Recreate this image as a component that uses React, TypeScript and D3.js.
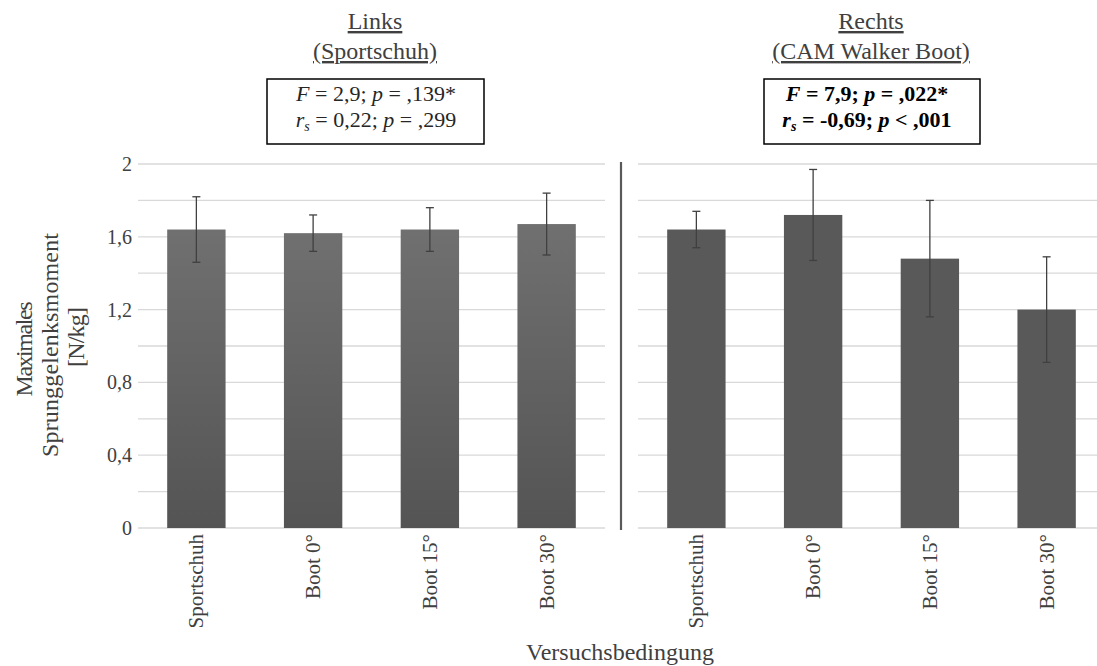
import React from "react";
import * as d3 from "d3";

const categories = ["Sportschuh", "Boot 0°", "Boot 15°", "Boot 30°"];
const leftValues = [1.64, 1.62, 1.64, 1.67];
const leftErrors = [0.18, 0.1, 0.12, 0.17];
const rightValues = [1.64, 1.72, 1.48, 1.2];
const rightErrors = [0.1, 0.25, 0.32, 0.29];
const yTicks = [0, 0.4, 0.8, 1.2, 1.6, 2];
const gridTicks = [0, 0.2, 0.4, 0.6, 0.8, 1.0, 1.2, 1.4, 1.6, 1.8, 2.0];

const FONT = "'Liberation Serif', 'DejaVu Serif', serif";
const TXT = "#404040";

export default function App() {
  const W = 1097, H = 666;
  const y = d3.scaleLinear().domain([0, 2]).range([528, 164]);
  const xL = d3.scaleBand().domain(categories).range([138, 605]).paddingInner(0.5).paddingOuter(0.25);
  const xR = d3.scaleBand().domain(categories).range([638, 1105]).paddingInner(0.5).paddingOuter(0.25);
  const fmt = (v: number) => (v === 0 || v === 2 ? String(v) : v.toFixed(1).replace(".", ","));

  const panel = (x: d3.ScaleBand<string>, vals: number[], errs: number[], fill: string) => {
    const r = x.range();
    return (
      <g>
        {gridTicks.map((t, i) => (
          <line key={i} x1={r[0]} x2={r[1]} y1={y(t)} y2={y(t)} stroke="#d9d9d9" strokeWidth={1.3} />
        ))}
        {categories.map((c, i) => (
          <rect key={c} x={x(c)!} width={x.bandwidth()} y={y(vals[i])} height={y(0) - y(vals[i])} fill={fill} />
        ))}
        {categories.map((c, i) => {
          const cx = x(c)! + x.bandwidth() / 2;
          return (
            <g key={c} stroke="#404040" strokeWidth={1.3}>
              <line x1={cx} x2={cx} y1={y(vals[i] + errs[i])} y2={y(vals[i] - errs[i])} />
              <line x1={cx - 4} x2={cx + 4} y1={y(vals[i] + errs[i])} y2={y(vals[i] + errs[i])} />
              <line x1={cx - 4} x2={cx + 4} y1={y(vals[i] - errs[i])} y2={y(vals[i] - errs[i])} />
            </g>
          );
        })}
        {categories.map((c) => {
          const cx = x(c)! + x.bandwidth() / 2;
          return (
            <text key={c} transform={`translate(${cx + 7},534) rotate(-90)`} textAnchor="end"
              fontSize={21} fill={TXT} fontFamily={FONT}>{c}</text>
          );
        })}
      </g>
    );
  };

  return (
    <svg width={W} height={H} style={{ position: "absolute", left: 0, top: 0, background: "#fff" }}>
      <defs>
        <linearGradient id="lg" x1="0" y1="0" x2="0" y2="1">
          <stop offset="0" stopColor="#707070" />
          <stop offset="1" stopColor="#545454" />
        </linearGradient>
      </defs>
      {panel(xL, leftValues, leftErrors, "url(#lg)")}
      {panel(xR, rightValues, rightErrors, "#595959")}
      <line x1={621} x2={621} y1={162} y2={530} stroke="#595959" strokeWidth={2.2} />
      {yTicks.map((t) => (
        <text key={t} x={132} y={y(t) + 7} textAnchor="end" fontSize={20} fill={TXT} fontFamily={FONT}>{fmt(t)}</text>
      ))}
      <g fontFamily={FONT} fill={TXT} fontSize={24} textAnchor="middle">
        <text transform="translate(32,349) rotate(-90)" textLength={95} lengthAdjust="spacing">Maximales</text>
        <text transform="translate(58,345) rotate(-90)" textLength={224} lengthAdjust="spacing">Sprunggelenksmoment</text>
        <text transform="translate(84,337) rotate(-90)" textLength={60} lengthAdjust="spacing">[N/kg]</text>
        <text x={620} y={660}>Versuchsbedingung</text>
        <text x={375} y={29} textDecoration="underline">Links</text>
        <text x={375} y={59} textDecoration="underline">(Sportschuh)</text>
        <text x={871} y={29} textDecoration="underline">Rechts</text>
        <text x={871} y={59} textDecoration="underline">(CAM Walker Boot)</text>
      </g>
      <rect x={267} y={79} width={217} height={65} fill="none" stroke="#000" strokeWidth={1.5} />
      <rect x={764} y={79} width={216} height={65} fill="none" stroke="#000" strokeWidth={1.5} />
      <g fontFamily={FONT} fill="#262626" fontSize={22} textAnchor="middle">
        <text x={376} y={101}>
          <tspan fontStyle="italic">F</tspan> = 2,9; <tspan fontStyle="italic">p</tspan> = ,139*
        </text>
        <text x={376} y={127}>
          <tspan fontStyle="italic">r</tspan><tspan fontStyle="italic" fontSize={14} dy={4}>s</tspan><tspan dy={-4}> = 0,22; </tspan><tspan fontStyle="italic">p</tspan> = ,299
        </text>
        <text x={867} y={101} fontWeight="bold" fill="#000">
          <tspan fontStyle="italic">F</tspan> = 7,9; <tspan fontStyle="italic">p</tspan> = ,022*
        </text>
        <text x={867} y={127} fontWeight="bold" fill="#000">
          <tspan fontStyle="italic">r</tspan><tspan fontStyle="italic" fontSize={14} dy={4}>s</tspan><tspan dy={-4}> = -0,69; </tspan><tspan fontStyle="italic">p</tspan> &lt; ,001
        </text>
      </g>
    </svg>
  );
}
